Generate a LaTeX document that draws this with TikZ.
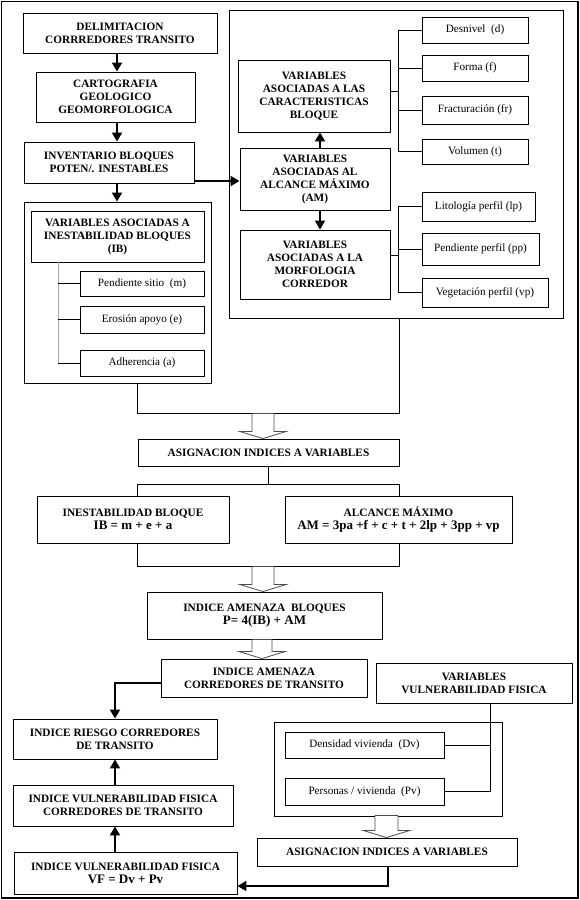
\documentclass[tikz,border=0pt]{standalone}
\usepackage{fontspec}
\setmainfont{Liberation Serif}
\usetikzlibrary{arrows.meta,calc}
\tikzset{
  box/.style={draw, line width=0.9pt, align=center, inner sep=1pt,
    font=\fontsize{11.3}{13}\selectfont\bfseries},
  sbox/.style={box, font=\fontsize{11.2}{13}\selectfont},
  cont/.style={draw, line width=0.9pt},
  arr/.style={line width=2pt, -{Triangle[length=9pt,width=10pt]}},
  ln/.style={line width=1pt},
  gln/.style={line width=1pt, draw=gray!70},
  hollow/.style={draw=gray!60!black, fill=white, line width=0.8pt, line join=miter}
}
\newcommand\fx[1]{{\fontsize{13}{15}\selectfont #1}}
% [opts]{x1}{y1}{x2}{y2}{name}{text}
\newcommand\bx[7][box]{\node[#1, minimum width={(#4-#2)*1pt}, minimum height={(#5-#3)*1pt}] (#6) at ({(#2+#4)/2},{(#3+#5)/2}) {#7};}
% hollow arrow: tip coordinate, total length, shaft half width
\newcommand\harrow[3]{\draw[hollow] (#1) ++(-#3pt,#2pt) -- ++(2*#3pt,0pt) -- ++(0pt,-#2pt+7pt) -- ++(23pt-#3pt,0pt) -- (#1) -- ++(-23pt,7pt) -- ++(23pt-#3pt,0pt) -- cycle;}
\begin{document}
\begin{tikzpicture}[x=1pt,y=-1pt]
\useasboundingbox (0,0) rectangle (580,900);
\draw[line width=1.2pt] (1.5,1.5) rectangle (578,898);
% containers
\bx[cont]{24}{202}{211}{383}{leftc}{}
\bx[cont]{229}{10}{563}{318}{rightc}{}
\bx[cont]{274}{722}{502}{816}{vcont}{}
% left column top
\bx{23}{13}{217}{53}{delim}{DELIMITACION\\CORRREDORES TRANSITO}
\bx{36}{72}{195}{122}{carto}{CARTOGRAFIA\\GEOLOGICO\\GEOMORFOLOGICA}
\bx{24}{142}{194}{183}{inv}{INVENTARIO BLOQUES\\POTEN/. INESTABLES}
\bx{31}{211}{204}{262}{ib}{VARIABLES ASOCIADAS A\\INESTABILIDAD BLOQUES\\(IB)}
\bx[sbox]{80}{271}{204}{296}{m}{Pendiente sitio~~(m)}
\bx[sbox]{80}{306}{204}{333}{e}{Erosión apoyo (e)}
\bx[sbox]{80}{350}{204}{376}{a}{Adherencia (a)}
% right container
\bx{238}{60}{390}{132}{car}{VARIABLES\\ASOCIADAS A LAS\\CARACTERISTICAS\\BLOQUE}
\bx{240}{148}{390}{210}{am}{VARIABLES\\ASOCIADAS AL\\ALCANCE MÁXIMO\\(AM)}
\bx{240}{230}{390}{299}{mor}{VARIABLES\\ASOCIADAS A LA\\MORFOLOGIA\\CORREDOR}
\bx[sbox]{422}{17}{528}{43}{d}{Desnivel~~(d)}
\bx[sbox]{422}{55}{528}{81}{f}{Forma (f)}
\bx[sbox]{422}{96}{528}{124}{fr}{Fracturación (fr)}
\bx[sbox]{422}{139}{528}{164}{t}{Volumen (t)}
\bx[sbox]{422}{192}{535}{221}{lp}{Litología perfil (lp)}
\bx[sbox]{422}{233}{539}{265}{pp}{Pendiente perfil (pp)}
\bx[sbox]{422}{278}{548}{307}{vp}{Vegetación perfil (vp)}
% middle
\bx{138}{439}{399}{466}{asig1}{ASIGNACION INDICES A VARIABLES}
\bx{37}{496}{229}{543}{ib2}{INESTABILIDAD BLOQUE\\\fx{IB = m + e + a}}
\bx{285}{496}{512}{543}{am2}{ALCANCE MÁXIMO\\\fx{AM = 3pa +f + c + t + 2lp + 3pp + vp}}
\bx{147}{592}{382}{639}{amb}{INDICE AMENAZA~~BLOQUES\\\fx{P= 4(IB) + AM}}
\bx{161}{659}{367}{697}{amc}{INDICE AMENAZA\\CORREDORES DE TRANSITO}
% bottom right
\bx{376}{663}{572}{703}{vv}{VARIABLES\\VULNERABILIDAD FISICA}
\bx[sbox]{285}{732}{444}{758}{dv}{Densidad vivienda~~(Dv)}
\bx[sbox]{285}{778}{444}{805}{pv}{Personas / vivienda~~(Pv)}
\bx{257}{838}{517}{866}{asig2}{ASIGNACION INDICES A VARIABLES}
% bottom left
\bx{13}{719}{217}{759}{riesgo}{INDICE RIESGO CORREDORES\\DE TRANSITO}
\bx{13}{785}{233}{826}{vc}{INDICE VULNERABILIDAD FISICA\\CORREDORES DE TRANSITO}
\bx{14}{852}{237}{894}{vf}{INDICE VULNERABILIDAD FISICA\\\fx{VF = Dv + Pv}}
% helper coordinates
\coordinate (xa) at (117,0);
\coordinate (xb) at (320,0);
\coordinate (xc) at (115,0);
\coordinate (xd) at (388,0);
\coordinate (ya) at (0,181);
\coordinate (ye) at (0,886);
\coordinate (bx) at (398,0);
\coordinate (lbx) at (58,0);
\coordinate (vbx) at (490,0);
\coordinate (jt) at (0,413);
\coordinate (jm) at (0,484);
\coordinate (jb) at (0,566);
% thick arrows
\draw[arr] (delim.south -| xa) -- (carto.north -| xa);
\draw[arr] (carto.south -| xa) -- (inv.north -| xa);
\draw[arr] (inv.south -| xa) -- (leftc.north -| xa);
\draw[arr] (inv.east |- ya) -- (am.west |- ya);
\draw[arr] (am.north -| xb) -- (car.south -| xb);
\draw[arr] (am.south -| xb) -- (mor.north -| xb);
\draw[arr] ([yshift=-5pt]amc.west) -| (riesgo.north -| xc);
\draw[arr] (vc.north -| xc) -- (riesgo.south -| xc);
\draw[arr] (vf.north -| xc) -- (vc.south -| xc);
\draw[arr] (asig2.south -| xd) |- (vf.east |- ye);
% brackets
\draw[ln] (car.east |- 0,91) -- (bx |- 0,91);
\draw[ln] (d.west) -- (d.west -| bx) -- (t.west -| bx) -- (t.west);
\draw[ln] (f.west) -- (f.west -| bx);
\draw[ln] (fr.west) -- (fr.west -| bx);
\draw[ln] ([yshift=9.5pt]mor.east) -- ([yshift=9.5pt]mor.east -| bx);
\draw[ln] (lp.west) -- (lp.west -| bx) -- (vp.west -| bx) -- (vp.west);
\draw[ln] (pp.west) -- (pp.west -| bx);
\draw[gln] (ib.south -| lbx) -- (a.west -| lbx);
\draw[ln] (m.west -| lbx) -- (m.west);
\draw[ln] (e.west -| lbx) -- (e.west);
\draw[ln] (a.west -| lbx) -- (a.west);
\draw[ln] (vv.south -| vbx) -- (pv.east -| vbx) -- (pv.east);
\draw[ln] (dv.east) -- (dv.east -| vbx);
% joining lines
\draw[ln] (leftc.south -| asig1.west) -- (asig1.west |- jt) -- (asig1.east |- jt) -- (rightc.south -| asig1.east);
\draw[ln] (asig1.south) -- (asig1.south |- jm);
\draw[ln] (ib2.north -| asig1.west) -- (asig1.west |- jm) -- (asig1.east |- jm) -- (am2.north -| asig1.east);
\draw[ln] (ib2.south -| asig1.west) -- (asig1.west |- jb) -- (asig1.east |- jb) -- (am2.south -| asig1.east);
% hollow arrows
\coordinate (h1) at ([xshift=-5.5pt]asig1.north);
\coordinate (h2) at ([xshift=-1.5pt]amb.north);
\coordinate (h3) at ([xshift=-2pt]amc.north);
\coordinate (h4) at ([xshift=-0.5pt]asig2.north);
\harrow{h1}{25}{11}
\harrow{h2}{25}{11}
\harrow{h3}{19}{10}
\harrow{h4}{22}{11.5}
\end{tikzpicture}
\end{document}
